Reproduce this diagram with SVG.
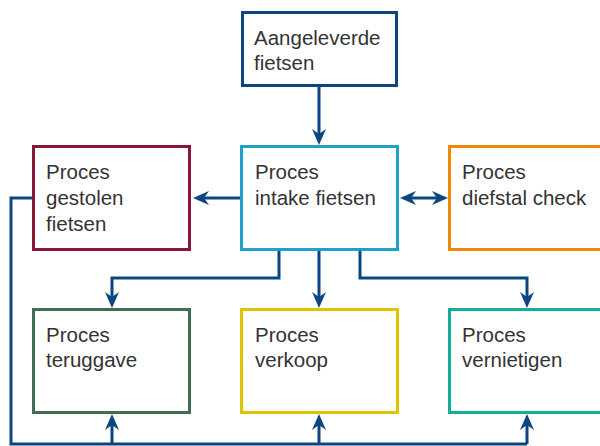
<svg xmlns="http://www.w3.org/2000/svg" width="600" height="446" viewBox="0 0 600 446">
<style>
  .box { fill: #ffffff; stroke-width: 3; }
  .lbl { font-family: "Liberation Sans", Arial, sans-serif; font-size: 20.5px; fill: #333333; }
  .con { fill: none; stroke: #0b4683; stroke-width: 3; }
</style>
<defs>
  <marker id="ah" markerUnits="userSpaceOnUse" viewBox="0 0 16 14" markerWidth="16" markerHeight="14" refX="6" refY="7" orient="auto-start-reverse">
    <path d="M0,0 L16,7 L0,14 L5,7 z" fill="#0b4683"/>
  </marker>
</defs>
<rect width="600" height="446" fill="#ffffff"/>
<g id="connectors">
  <path class="con" d="M319,87 V135" marker-end="url(#ah)"/>
  <path class="con" d="M241,198 H203" marker-end="url(#ah)"/>
  <path class="con" d="M410,198 H438" marker-start="url(#ah)" marker-end="url(#ah)"/>
  <path class="con" d="M279,250 V278 H112 V298" marker-end="url(#ah)"/>
  <path class="con" d="M319,250 V298" marker-end="url(#ah)"/>
  <path class="con" d="M360,250 V278 H527 V298" marker-end="url(#ah)"/>
  <path class="con" d="M33,198 H11 V444 H527"/>
  <path class="con" d="M112,444 V424" marker-end="url(#ah)"/>
  <path class="con" d="M319,444 V424" marker-end="url(#ah)"/>
  <path class="con" d="M527,444 V424" marker-end="url(#ah)"/>
</g>
<g id="aangeleverde">
  <rect class="box" x="242.5" y="12.5" width="154" height="73" stroke="#0d4582"/>
  <text class="lbl" x="254" y="45">Aangeleverde</text>
  <text class="lbl" x="254" y="70">fietsen</text>
</g>
<g id="intake">
  <rect class="box" x="241.5" y="146.5" width="156" height="103" stroke="#1ea2cc"/>
  <text class="lbl" x="255" y="179">Proces</text>
  <text class="lbl" x="255" y="205">intake fietsen</text>
</g>
<g id="gestolen">
  <rect class="box" x="33.5" y="146.5" width="156" height="103" stroke="#8a1737"/>
  <text class="lbl" x="46" y="179">Proces</text>
  <text class="lbl" x="46" y="205">gestolen</text>
  <text class="lbl" x="46" y="231">fietsen</text>
</g>
<g id="diefstal">
  <rect class="box" x="449.5" y="146.5" width="170" height="103" stroke="#f0880a"/>
  <text class="lbl" x="462" y="179">Proces</text>
  <text class="lbl" x="462" y="205">diefstal check</text>
</g>
<g id="teruggave">
  <rect class="box" x="33.5" y="309.5" width="156" height="103" stroke="#3f6f52"/>
  <text class="lbl" x="46" y="342">Proces</text>
  <text class="lbl" x="46" y="367">teruggave</text>
</g>
<g id="verkoop">
  <rect class="box" x="241.5" y="309.5" width="156" height="103" stroke="#dfc200"/>
  <text class="lbl" x="255" y="342">Proces</text>
  <text class="lbl" x="255" y="367">verkoop</text>
</g>
<g id="vernietigen">
  <rect class="box" x="449.5" y="309.5" width="170" height="103" stroke="#14ae98"/>
  <text class="lbl" x="462" y="342">Proces</text>
  <text class="lbl" x="462" y="367">vernietigen</text>
</g>
</svg>
